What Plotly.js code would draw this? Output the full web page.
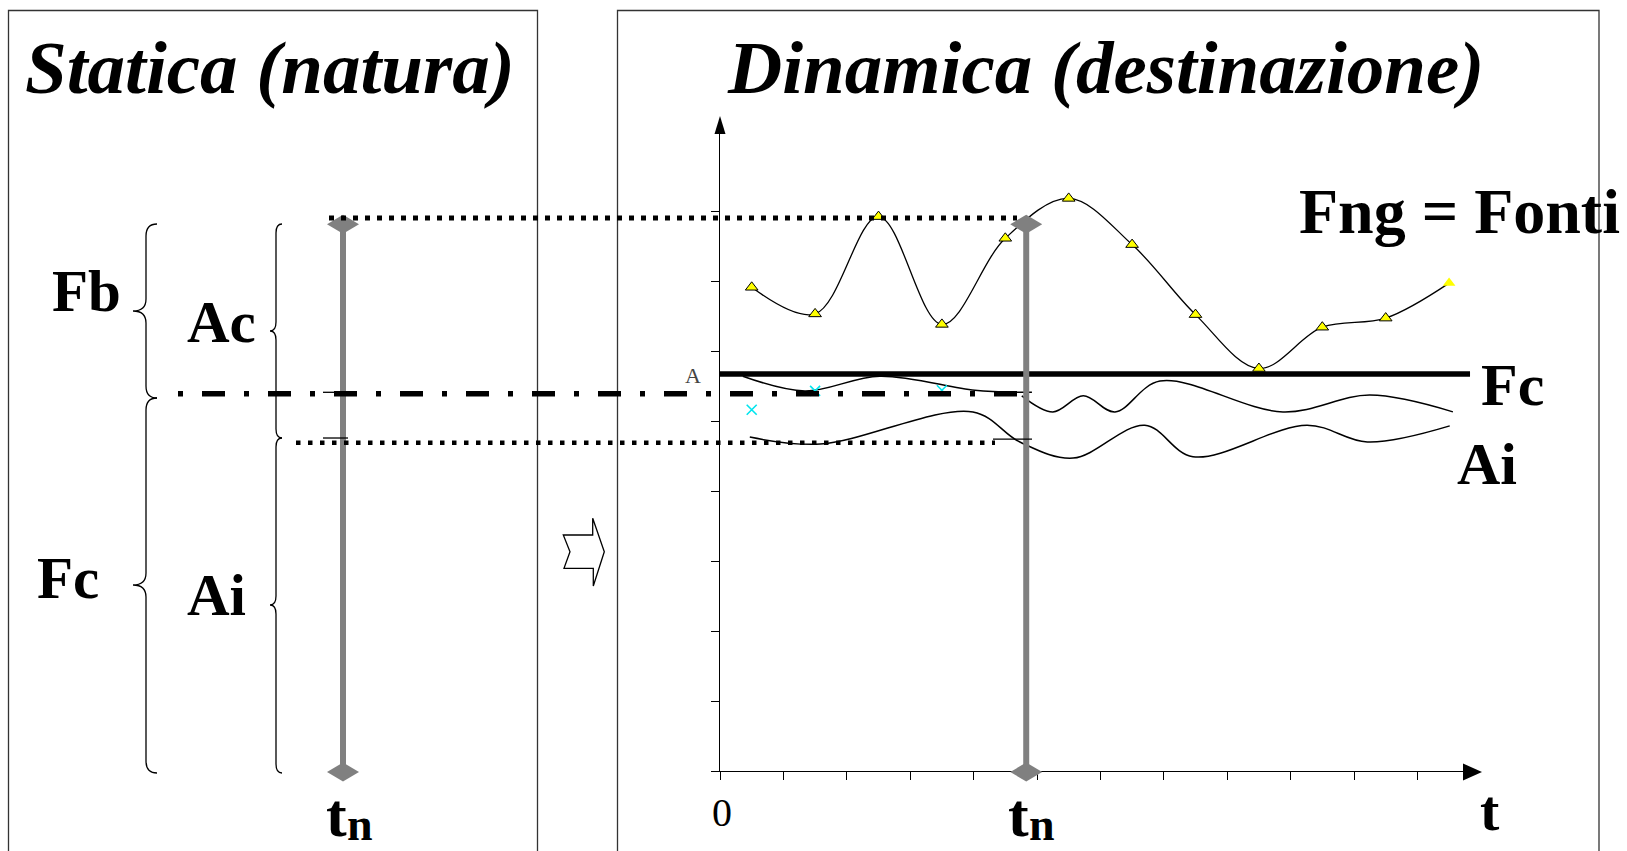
<!DOCTYPE html>
<html><head><meta charset="utf-8">
<script src="https://cdn.plot.ly/plotly-3.0.1.min.js"></script>
<style>html,body{margin:0;padding:0;background:#fff;}#chart{width:1627px;height:851px;}</style>
</head><body><div id="chart"></div>
<script>
// ---------------- data ----------------
const tCategories = [0.5, 1.5, 2.5, 3.5, 4.5, 5.5, 6.5, 7.5, 8.5, 9.5, 10.5, 11.5];
const fngValues   = [6.91, 6.53, 7.92, 6.38, 7.61, 8.18, 7.52, 6.52, 5.75, 6.34, 6.47, 6.97];
const fcLevelX = [0, 11.83];
const fcLevelY = [5.67, 5.67];
const fcBeforeX = [0.36, 1.34, 2.52, 4.02, 4.73, 4.92];
const fcBeforeY = [5.64, 5.43, 5.64, 5.44, 5.41, 5.41];
const fcAfterX  = [4.76, 5.25, 5.73, 6.23, 6.94, 8.88, 10.25, 11.56];
const fcAfterY  = [5.36, 5.13, 5.36, 5.13, 5.57, 5.13, 5.37, 5.13];
const aiX = [0.47, 1.58, 3.99, 4.73, 5.57, 6.70, 7.46, 9.26, 10.21, 11.51];
const aiY = [4.77, 4.67, 5.13, 4.70, 4.47, 4.94, 4.49, 4.94, 4.70, 4.93];
const markX = [0.5, 1.5, 3.5];
const markY = [5.16, 5.43, 5.44];
const tn = 4.83;          // time t_n
const tnTop = 7.81;       // top of the t_n bar
const fbLevel = 7.90;     // dotted line (Fb top)
const fcNowLevel = 5.39;  // dash-dot line (Fc at t_n)
const aiNowLevel = 4.69;  // dotted line (Ai at t_n)
const fcTick = 5.41, aiTickL = 4.757, aiTickR = 4.74;
const xTicks = [0,1,2,3,4,5,6,7,8,9,10,11];
const yTicks = [0,1,2,3,4,5,6,7,8];

// ---------------- geometry ----------------
const W = 1627, H = 851;
const X0 = 720, UX = 63.4, Y0 = 771, UY = 70;
const ux = p => (p - X0) / UX;
const uy = p => (Y0 - p) / UY;
const PX = p => p / W;
const PY = p => 1 - p / H;
const xpx = v => X0 + v * UX;
const ypx = v => Y0 - v * UY;
const F = 'Liberation Serif, Times New Roman, serif';

function pathPx(pts, close) {
  let s = pts.map((p, i) => (i ? 'L' : 'M') + ux(p[0]) + ',' + uy(p[1])).join(' ');
  return close ? s + ' Z' : s;
}
function brace(xs, ext, tip, y0, ym, y1, r) {
  const P = (x, y) => ux(x) + ',' + uy(y);
  return 'M' + P(ext, y0) + ' Q' + P(xs, y0) + ' ' + P(xs, y0 + r) +
    ' L' + P(xs, ym - r) + ' Q' + P(xs, ym) + ' ' + P(tip, ym) +
    ' Q' + P(xs, ym) + ' ' + P(xs, ym + r) + ' L' + P(xs, y1 - r) +
    ' Q' + P(xs, y1) + ' ' + P(ext, y1);
}
function diamond(cx, cy) {
  return pathPx([[cx - 16, cy], [cx, cy - 9.5], [cx + 16, cy], [cx, cy + 9.5]], true);
}
const thin = {color: '#000', width: 1.3};
const shapes = [];
const add = (o) => shapes.push(Object.assign({xref: 'x', yref: 'y', layer: 'above'}, o));

// boxes
add({type: 'rect', x0: ux(8.5), x1: ux(537.5), y0: uy(10.5), y1: uy(900), line: {color: '#333', width: 1.3}, layer: 'below'});
add({type: 'rect', x0: ux(617.5), x1: ux(1599), y0: uy(10.5), y1: uy(900), line: {color: '#333', width: 1.3}, layer: 'below'});
// braces
add({type: 'path', path: brace(146, 157, 133, 224, 311, 398, 12), line: thin});
add({type: 'path', path: brace(146, 157, 133, 398, 585, 773, 12), line: thin});
add({type: 'path', path: brace(276, 282, 270, 224, 331, 438, 9), line: thin});
add({type: 'path', path: brace(276, 282, 270, 438, 605, 773, 9), line: thin});
// hollow arrow between panels
add({type: 'path', path: pathPx([[563.3,535],[592.7,535],[592.7,518.3],[604.3,551.7],[593.3,586],[593.3,568.3],[564,568.3],[570,551.7]], true), line: thin});
// t_n bars
add({type: 'line', x0: ux(343), x1: ux(343), y0: 0, y1: tnTop, line: {color: '#808080', width: 6}});
add({type: 'line', x0: tn, x1: tn, y0: 0, y1: tnTop, line: {color: '#808080', width: 6}});
[[343, ypx(tnTop)], [xpx(tn), ypx(tnTop)], [343, ypx(0) + 1], [xpx(tn), ypx(0) + 1]].forEach(c =>
  add({type: 'path', path: diamond(c[0], c[1]), fillcolor: '#808080', line: {width: 0}}));
// guide lines
add({type: 'line', x0: ux(329), x1: ux(1017), y0: fbLevel, y1: fbLevel, line: {color: '#000', width: 5, dash: '5px,7px'}});
add({type: 'line', x0: ux(178), x1: ux(1020), y0: fcNowLevel, y1: fcNowLevel, line: {color: '#000', width: 5.5, dash: '5px,19px,23px,19px'}});
add({type: 'line', x0: ux(296), x1: ux(995), y0: aiNowLevel, y1: aiNowLevel, line: {color: '#000', width: 4.5, dash: '4.5px,7.5px'}});
// small marks at t_n
add({type: 'line', x0: ux(323), x1: ux(348), y0: fcTick, y1: fcTick, line: thin});
add({type: 'line', x0: ux(323), x1: ux(348), y0: aiTickL, y1: aiTickL, line: thin});
add({type: 'line', x0: ux(993), x1: ux(1032), y0: aiTickR, y1: aiTickR, line: thin});
// axis arrow heads
add({type: 'path', path: pathPx([[720, 116], [714.5, 134], [725.5, 134]], true), fillcolor: '#000', line: {width: 0}});
add({type: 'path', path: pathPx([[1482, 772], [1463, 763.5], [1463, 780.5]], true), fillcolor: '#000', line: {width: 0}});

// ---------------- traces ----------------
const traces = [
  {x: fcLevelX, y: fcLevelY, mode: 'lines', line: {color: '#000', width: 5.5}},
  {x: fcBeforeX, y: fcBeforeY, mode: 'lines', line: {color: '#000', width: 1.5, shape: 'spline', smoothing: 1}},
  {x: fcAfterX, y: fcAfterY, mode: 'lines', line: {color: '#000', width: 1.5, shape: 'spline', smoothing: 1}},
  {x: aiX, y: aiY, mode: 'lines', line: {color: '#000', width: 1.5, shape: 'spline', smoothing: 1}},
  {x: markX, y: markY, mode: 'markers', cliponaxis: false,
   marker: {symbol: 'x-thin-open', size: 10, color: '#00E5EE', line: {width: 1.6, color: '#00E5EE'}}},
  {x: tCategories, y: fngValues, mode: 'lines+markers', cliponaxis: false,
   line: {color: '#000', width: 1.3, shape: 'spline', smoothing: 1},
   marker: {symbol: 'triangle-up', size: 11, color: '#FFFF00',
            line: {color: '#000', width: tCategories.map((v, i) => i === tCategories.length - 1 ? 0 : 1)}}},
  {x: [null], y: [null], xaxis: 'x2', yaxis: 'y2', mode: 'markers', hoverinfo: 'skip'}
];

// ---------------- annotations ----------------
const ann = (text, x, y, size, extra) => Object.assign({
  text: text, xref: 'paper', yref: 'paper', x: PX(x), y: PY(y), xanchor: 'center', yanchor: 'middle',
  showarrow: false, font: {family: F, size: size, color: '#000', weight: 'bold'}
}, extra || {});
const annotations = [
  ann('Statica (natura)', 270, 67, 75, {font: {family: F, size: 75, color: '#000', weight: 'bold', style: 'italic'}}),
  ann('Dinamica (destinazione)', 1105, 67, 75, {font: {family: F, size: 75, color: '#000', weight: 'bold', style: 'italic'}}),
  ann('Fb', 86, 291, 59),
  ann('Ac', 221, 322, 59),
  ann('Fc', 68, 578, 59),
  ann('Ai', 216, 595, 59),
  ann('Fng = Fonti', 1459, 211, 64),
  ann('Fc', 1512, 385, 60),
  ann('Ai', 1487, 464, 60),
  ann('t', 336, 815, 62),
  ann('n', 360, 824, 46),
  ann('t', 1018, 815, 62),
  ann('n', 1042, 824, 46),
  ann('t', 1490, 810, 58),
  ann('0', 722, 812, 40, {font: {family: F, size: 40, color: '#000'}}),
  ann('A', 693, 375, 22, {font: {family: F, size: 22, color: '#444'}})
];

const layout = {
  width: W, height: H, autosize: false,
  margin: {l: 0, r: 0, t: 0, b: 0, pad: 0},
  paper_bgcolor: '#fff', plot_bgcolor: 'rgba(0,0,0,0)',
  showlegend: false,
  xaxis: {domain: [0, 1], range: [ux(0), ux(W)], visible: false, fixedrange: true},
  yaxis: {domain: [0, 1], range: [uy(H), uy(0)], visible: false, fixedrange: true},
  xaxis2: {domain: [PX(X0), PX(1470)], range: [0, ux(1470)], anchor: 'y2',
           showline: true, linecolor: '#000', linewidth: 1.3, ticks: 'outside', ticklen: 8,
           tickwidth: 1, tickcolor: '#000', tickmode: 'array', tickvals: xTicks,
           showticklabels: false, showgrid: false, zeroline: false, fixedrange: true},
  yaxis2: {domain: [1 - Y0 / H, 1 - 122 / H], range: [0, uy(122)], anchor: 'x2',
           showline: true, linecolor: '#000', linewidth: 1.3, ticks: 'outside', ticklen: 8,
           tickwidth: 1, tickcolor: '#000', tickmode: 'array', tickvals: yTicks,
           showticklabels: false, showgrid: false, zeroline: false, fixedrange: true},
  shapes: shapes,
  annotations: annotations
};
Plotly.newPlot('chart', traces, layout, {staticPlot: true, displayModeBar: false});
</script></body></html>
